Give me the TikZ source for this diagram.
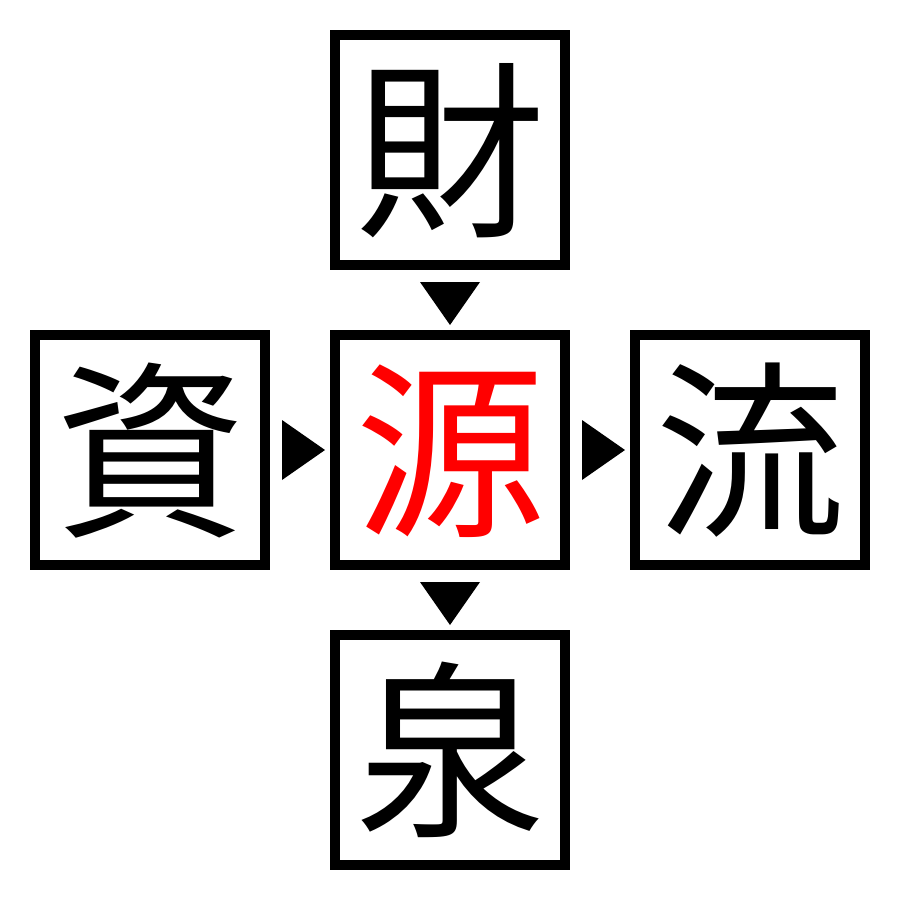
\documentclass[tikz,border=0pt]{standalone}
\usepackage{fontspec}
\newfontfamily\cjk{Noto Sans CJK JP}
\begin{document}
\begin{tikzpicture}[x=1pt,y=-1pt,
  box/.style={draw=black,line width=10pt,minimum size=230pt,inner sep=0pt,outer sep=0pt,font=\cjk\fontsize{190}{190}\selectfont,text height=167pt,text depth=23pt},
  tri/.style={fill=black}]
\useasboundingbox (0,0) rectangle (900,900);
\node[box] (top) at (450,150) {財};
\node[box] (left) at (150,450) {資};
\node[box,text=red] (mid) at (450,450) {源};
\node[box] (right) at (750,450) {流};
\node[box] (bot) at (450,750) {泉};
\fill[tri] (420,282) -- (480,282) -- (450,325) -- cycle;
\fill[tri] (420,582) -- (480,582) -- (450,625) -- cycle;
\fill[tri] (282,420) -- (282,480) -- (325,450) -- cycle;
\fill[tri] (582,420) -- (582,480) -- (625,450) -- cycle;
\end{tikzpicture}
\end{document}
